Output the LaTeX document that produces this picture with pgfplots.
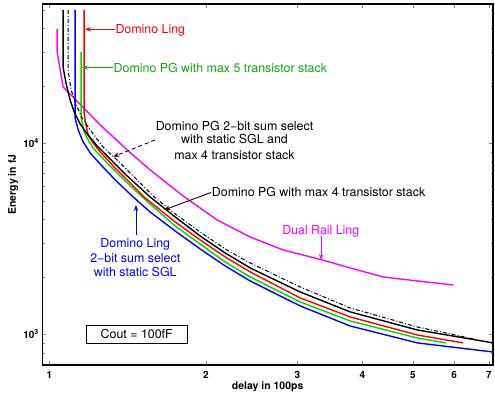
\documentclass[border=0pt]{standalone}
\usepackage{fontspec}
\setmainfont{TeX Gyre Heros}
\usepackage{pgfplots}
\pgfplotsset{compat=1.18}
\usetikzlibrary{arrows.meta,calc}
\definecolor{cgreen}{RGB}{0,215,0}
\definecolor{tgreen}{RGB}{20,165,20}
\definecolor{cmag}{RGB}{255,0,255}
\definecolor{cred}{RGB}{255,0,0}
\definecolor{cblue}{RGB}{0,0,255}
\begin{document}
\begin{tikzpicture}
\begin{axis}[
 xmode=log, ymode=log,
 scale only axis, width=450.7bp, height=361bp,
 xmin=0.969, xmax=7.13, ymin=690, ymax=53600,
 xtick={1,2,3,4,5,6,7}, xticklabels={\textbf{1},\textbf{2},\textbf{3},\textbf{4},\textbf{5},\textbf{6},\textbf{7}},
 minor xtick={},
 ytick={1000,10000}, yticklabels={\textbf{10\textsuperscript{3}},\textbf{10\textsuperscript{4}}},
 minor ytick={700,800,900,2000,3000,4000,5000,6000,7000,8000,9000,20000,30000,40000,50000},
 tick align=inside, major tick length=4bp, minor tick length=2.5bp,
 axis line style={line width=1.1bp},
 xlabel={\textbf{delay in 100ps}}, ylabel={\textbf{Energy in fJ}},
 every axis x label/.style={at={(rel axis cs:0.5,-0.0665)},anchor=base,font=\fontsize{10.5}{12}\selectfont\bfseries},
 every axis y label/.style={at={(rel axis cs:-0.065,0.5)},rotate=90,anchor=center,font=\fontsize{10.5}{12}\selectfont\bfseries},
 xticklabel style={anchor=base,yshift=-13.3bp,font=\fontsize{10}{12}\selectfont\bfseries},
 yticklabel style={font=\fontsize{10}{12}\selectfont\bfseries},
 every axis plot/.append style={line width=1.4bp},
]
% Dual Rail Ling
\addplot[color=cmag, no markers] coordinates {
(1.035,39640) (1.035,30060) (1.0625,19720) (1.096,18120) (1.252,12470)
(1.411,9224) (1.562,7248) (1.807,5297) (2.101,3967) (2.432,3231)
(2.814,2763) (3.346,2449) (3.787,2224) (4.383,1995) (5.096,1901) (5.975,1812)};
% Domino Ling 2-bit sum select with static SGL
\addplot[color=cblue, no markers] coordinates {
(1.1205,49890) (1.1205,13570) (1.136,11740) (1.161,10160) (1.198,8897)
(1.252,7790) (1.338,6427) (1.449,5234) (1.562,4365) (1.745,3473)
(1.949,2797) (2.177,2279) (2.432,1901) (3.035,1407) (3.787,1105)
(5.096,901) (7.13,807)};
% Domino PG with max 5 transistor stack
\addplot[color=cgreen, no markers] coordinates {
(1.151,30060) (1.151,13570) (1.166,11460) (1.187,10410) (1.213,9450)
(1.291,7886) (1.368,6741) (1.494,5362) (1.562,4811) (1.745,3690)
(1.949,2971) (2.177,2391) (2.432,1995) (3.035,1476) (3.787,1174)
(5.096,956) (5.793,901)};
% Domino Ling
\addplot[color=cred, no markers] coordinates {
(1.166,49890) (1.166,14410) (1.176,12470) (1.187,11050) (1.213,10040)
(1.252,9006) (1.326,7606) (1.411,6427) (1.528,5172) (1.745,3873)
(1.949,3117) (2.177,2540) (2.432,2120) (3.035,1549) (3.787,1232)
(5.096,991) (6.246,901)};
% Domino PG with max 4 transistor stack
\addplot[color=black, no markers] coordinates {
(1.0625,49890) (1.0625,25080) (1.077,20440) (1.096,16860) (1.116,14580)
(1.146,12620) (1.182,11190) (1.235,9680) (1.308,8276) (1.411,6741)
(1.562,5234) (1.745,4113) (1.949,3271) (2.177,2665) (2.432,2224)
(3.035,1665) (3.787,1309) (5.096,1053) (7.13,901)};
% Domino PG 2-bit sum select with static SGL and max 4 transistor stack
\addplot[color=black, no markers, line width=1bp, dash pattern=on 4bp off 2bp on 1bp off 2bp] coordinates {
(1.086,49890) (1.086,24200) (1.101,19020) (1.126,15870) (1.156,13570)
(1.198,11740) (1.268,9563) (1.349,8176) (1.475,6427) (1.582,5297)
(1.745,4265) (1.949,3432) (2.177,2797) (2.432,2362) (3.035,1768)
(3.787,1373) (5.096,1092) (6.674,934)};

% annotations
\def\af{\fontsize{12.45}{14.3}\selectfont}
\draw[cred, line width=0.9bp, -{Stealth[length=6bp,width=4.5bp]}] (rel axis cs:0.1615,0.93) -- (rel axis cs:0.0947,0.93);
\node[anchor=base west, inner sep=0, text=cred, font=\af] at (rel axis cs:0.162,0.9169) {Domino Ling};
\draw[tgreen, line width=0.9bp, -{Stealth[length=6bp,width=4.5bp]}] (rel axis cs:0.1575,0.8235) -- (rel axis cs:0.0874,0.8235);
\node[anchor=base west, inner sep=0, text=tgreen, font=\af] at (rel axis cs:0.158,0.8108) {Domino PG with max 5 transistor stack};
\node[anchor=base, inner sep=0, font=\af] at (rel axis cs:0.4265,0.649) {Domino PG 2\textminus bit sum select};
\node[anchor=base, inner sep=0, font=\af] at (rel axis cs:0.4265,0.6122) {with static SGL and};
\node[anchor=base, inner sep=0, font=\af] at (rel axis cs:0.4265,0.5698) {max 4 transistor stack};
\draw[black, line width=0.9bp, dash pattern=on 4bp off 3bp, -{Stealth[length=6bp,width=4.5bp]}] (rel axis cs:0.2501,0.6233) -- (rel axis cs:0.1575,0.577);
\node[anchor=base west, inner sep=0, font=\af] at (rel axis cs:0.3759,0.4668) {Domino PG with max 4 transistor stack};
\draw[black, line width=0.9bp, -{Stealth[length=6bp,width=4.5bp]}] (rel axis cs:0.3743,0.4778) -- (rel axis cs:0.27,0.4294);
\node[anchor=base, inner sep=0, text=cmag, font=\af] at (rel axis cs:0.6179,0.362) {Dual Rail Ling};
\draw[cmag, line width=0.9bp, -{Stealth[length=6bp,width=4.5bp]}] (rel axis cs:0.6186,0.3568) -- (rel axis cs:0.6186,0.2909);
\node[anchor=base, inner sep=0, text=cblue, font=\af] at (rel axis cs:0.2063,0.3241) {Domino Ling};
\node[anchor=base, inner sep=0, text=cblue, font=\af] at (rel axis cs:0.2063,0.2853) {2\textminus bit sum select};
\node[anchor=base, inner sep=0, text=cblue, font=\af] at (rel axis cs:0.2063,0.2452) {with static SGL};
\draw[cblue, line width=0.9bp, -{Stealth[length=6bp,width=4.5bp]}] (rel axis cs:0.2079,0.3601) -- (rel axis cs:0.2079,0.4432);
\node[draw, line width=0.8bp, fill=white, minimum width=101bp, minimum height=18.3bp, inner sep=0, font=\af] at (rel axis cs:0.2095,0.0853) {Cout = 100fF};
\end{axis}
\pgfresetboundingbox
\useasboundingbox ($(current axis.south west)+(-42.3bp,-31bp)$) rectangle ($(current axis.north east)+(2bp,4bp)$);
\end{tikzpicture}
\end{document}
